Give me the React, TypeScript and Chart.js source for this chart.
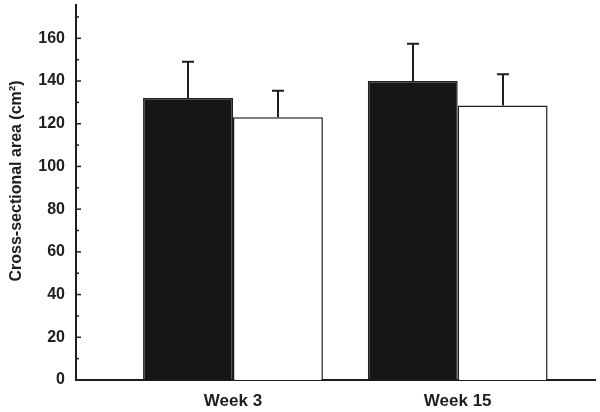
import React, { useEffect, useRef } from "react";
import { Chart, registerables } from "chart.js";

Chart.register(...registerables);

const categories = ["Week 3", "Week 15"];
const categoryPositions = [0, 1];
const seriesA = [132, 140]; // black bars
const seriesAErrTop = [149, 157.4];
const seriesB = [123, 128.5]; // white bars
const seriesBErrTop = [135.4, 143.2];
const yTickValues = [0, 20, 40, 60, 80, 100, 120, 140, 160];
const yMinorValues = [10, 30, 50, 70, 90, 110, 130, 150, 170];
const yAxisTitle = "Cross-sectional area (cm²)";

const FONT = "'Liberation Sans', Arial, Helvetica, sans-serif";
const INK = "#1e1e1e";

const extrasPlugin = {
  id: "extras",
  afterDatasetsDraw(chart: any) {
    const ctx = chart.ctx;
    const y = chart.scales.y;
    const area = chart.chartArea;
    const errs = [seriesAErrTop, seriesBErrTop];
    ctx.save();
    ctx.strokeStyle = INK;
    ctx.lineWidth = 2;
    errs.forEach((arr, di) => {
      const meta = chart.getDatasetMeta(di);
      meta.data.forEach((el: any, i: number) => {
        const top = y.getPixelForValue(arr[i]);
        const x = Math.round(el.x);
        ctx.beginPath();
        ctx.moveTo(x, el.y);
        ctx.lineTo(x, top);
        ctx.moveTo(x - 6, top);
        ctx.lineTo(x + 6, top);
        ctx.stroke();
      });
    });
    // inward ticks
    ctx.lineWidth = 1.5;
    yTickValues.forEach((v) => {
      const py = y.getPixelForValue(v);
      ctx.beginPath();
      ctx.moveTo(area.left, py);
      ctx.lineTo(area.left + 5, py);
      ctx.stroke();
    });
    yMinorValues.forEach((v) => {
      const py = y.getPixelForValue(v);
      ctx.beginPath();
      ctx.moveTo(area.left, py);
      ctx.lineTo(area.left + 3, py);
      ctx.stroke();
    });
    // axis title
    ctx.fillStyle = INK;
    ctx.font = `bold 16px ${FONT}`;
    ctx.textAlign = "center";
    ctx.textBaseline = "middle";
    ctx.translate(17, 181);
    ctx.rotate(-Math.PI / 2);
    ctx.fillText(yAxisTitle, 0, 0);
    ctx.restore();
  },
};

export default function App() {
  const ref = useRef<HTMLCanvasElement>(null);
  useEffect(() => {
    document.body.style.margin = "0";
    const chart = new Chart(ref.current!, {
      type: "bar",
      data: {
        datasets: [
          {
            data: categoryPositions.map((x, i) => ({ x, y: seriesA[i] })),
            backgroundColor: "#161616",
            borderColor: INK,
            borderWidth: 1.5,
            categoryPercentage: 0.8,
            barPercentage: 1,
          },
          {
            data: categoryPositions.map((x, i) => ({ x, y: seriesB[i] })),
            backgroundColor: "#ffffff",
            borderColor: INK,
            borderWidth: 1.5,
            categoryPercentage: 0.8,
            barPercentage: 1,
          },
        ],
      },
      options: {
        animation: false,
        responsive: false,
        layout: { padding: { top: 5, right: 5, left: 0, bottom: 0 } },
        plugins: { legend: { display: false }, tooltip: { enabled: false } },
        scales: {
          x: {
            type: "linear",
            min: -0.6987,
            max: 1.611,
            offset: false,
            grid: { display: false, drawTicks: false },
            border: { display: true, color: INK, width: 2 },
            afterBuildTicks: (s: any) => {
              s.ticks = categoryPositions.map((v) => ({ value: v }));
            },
            afterFit: (s: any) => {
              s.height = 32;
              s.paddingLeft = 0;
              s.paddingRight = 0;
            },
            ticks: {
              color: INK,
              font: { family: FONT, size: 17, weight: "bold" },
              padding: 11,
              maxRotation: 0,
              autoSkip: false,
              callback: (v: any) => categories[Math.round(Number(v))] ?? "",
            },
          },
          y: {
            type: "linear",
            min: 0,
            max: 175.6,
            grid: { display: false, drawTicks: false },
            border: { display: true, color: INK, width: 2 },
            afterBuildTicks: (s: any) => {
              s.ticks = yTickValues.map((v) => ({ value: v }));
            },
            afterFit: (s: any) => {
              s.width = 76;
              s.paddingTop = 0;
              s.paddingBottom = 0;
            },
            ticks: {
              color: INK,
              font: { family: FONT, size: 16, weight: "bold" },
              padding: 11,
            },
          },
        },
      },
      plugins: [extrasPlugin],
    });
    return () => chart.destroy();
  }, []);
  return (
    <div style={{ width: 600, height: 412 }}>
      <canvas ref={ref} width={600} height={412} />
    </div>
  );
}
